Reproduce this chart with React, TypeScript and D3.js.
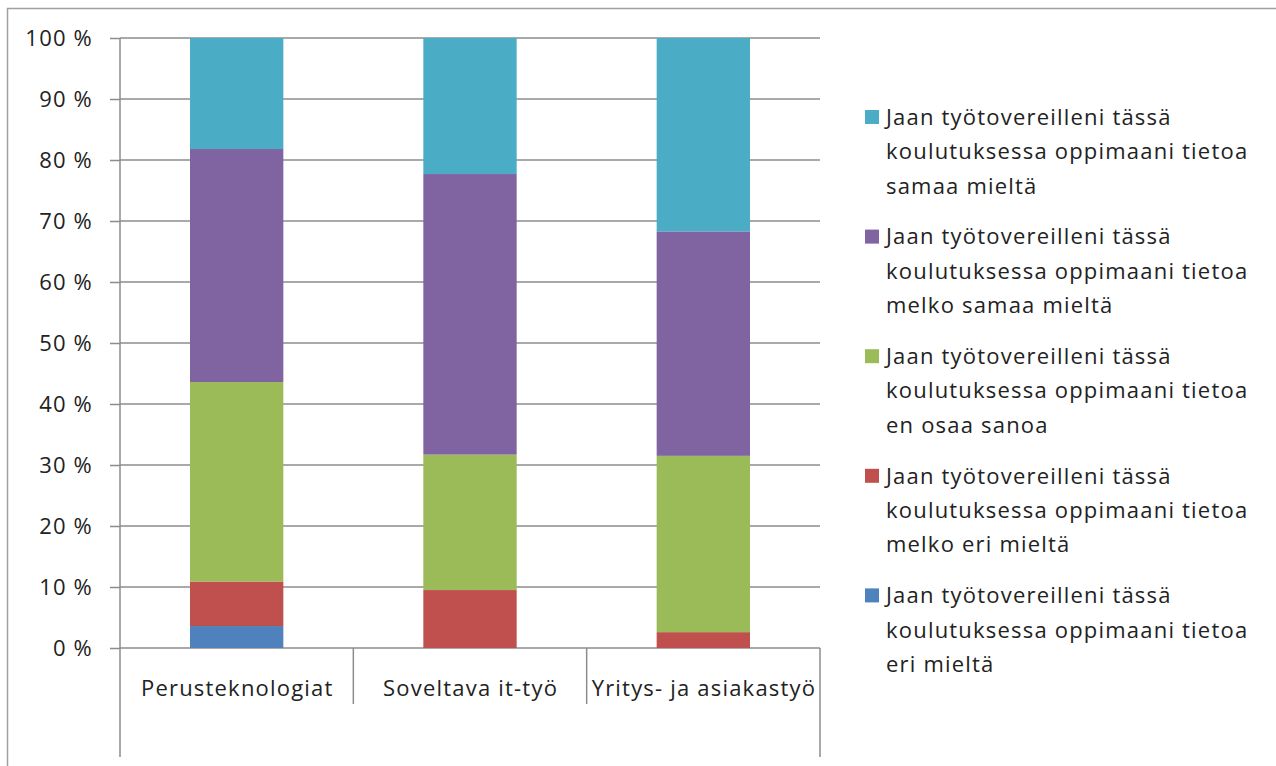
import React, { useEffect, useRef } from "react";
import * as d3 from "d3";

// categories on the x axis
const categories = ["Perusteknologiat", "Soveltava it-työ", "Yritys- ja asiakastyö"];

// series, bottom to top (percent of respondents)
const seriesKeys = ["eri", "melkoEri", "enOsaa", "melkoSamaa", "samaa"];
const eriMielta = [3.6, 0, 0];
const melkoEriMielta = [7.3, 9.5, 2.6];
const enOsaaSanoa = [32.7, 22.2, 28.9];
const melkoSamaaMielta = [38.2, 46.0, 36.8];
const samaaMielta = [18.2, 22.3, 31.7];

const seriesColors = ["#4F81BD", "#C0504D", "#9BBB59", "#8064A2", "#4BACC6"];
const seriesLabels = [
  ["Jaan työtovereilleni tässä", "koulutuksessa oppimaani tietoa", "eri mieltä"],
  ["Jaan työtovereilleni tässä", "koulutuksessa oppimaani tietoa", "melko eri mieltä"],
  ["Jaan työtovereilleni tässä", "koulutuksessa oppimaani tietoa", "en osaa sanoa"],
  ["Jaan työtovereilleni tässä", "koulutuksessa oppimaani tietoa", "melko samaa mieltä"],
  ["Jaan työtovereilleni tässä", "koulutuksessa oppimaani tietoa", "samaa mieltä"],
];

const yTicks = [0, 10, 20, 30, 40, 50, 60, 70, 80, 90, 100];

const FONT = "'Open Sans', sans-serif";
const FONT_SIZE = 22;
const SPACING = 1.2;

const App = () => {
  const ref = useRef<SVGSVGElement | null>(null);

  useEffect(() => {
    const svg = d3.select(ref.current);
    svg.selectAll("*").remove();

    const width = 1276;
    const height = 766;
    const margin = { top: 38, left: 120, right: 456, bottom: 118 };

    const rows = categories.map((c, i) => ({
      category: c,
      eri: eriMielta[i],
      melkoEri: melkoEriMielta[i],
      enOsaa: enOsaaSanoa[i],
      melkoSamaa: melkoSamaaMielta[i],
      samaa: samaaMielta[i],
    }));

    const stacked = d3.stack<any>().keys(seriesKeys)(rows);

    const x = d3
      .scaleBand()
      .domain(categories)
      .range([margin.left, width - margin.right])
      .paddingInner(0.6)
      .paddingOuter(0.3);

    const xOuter = d3
      .scaleBand()
      .domain(categories)
      .range([margin.left, width - margin.right]);

    const y = d3
      .scaleLinear()
      .domain([0, 100])
      .range([height - margin.bottom, margin.top]);

    const grey = "#8c8c8c";

    // outer chart border
    svg
      .append("rect")
      .attr("x", 7.5)
      .attr("y", 8.5)
      .attr("width", width)
      .attr("height", height)
      .attr("fill", "white")
      .attr("stroke", "#a0a0a0")
      .attr("stroke-width", 1.5);

    // y axis ticks + labels
    const yAxis = d3
      .axisLeft(y)
      .tickValues(yTicks)
      .tickSize(10)
      .tickPadding(17)
      .tickFormat((d) => `${d} %`);

    const gy = svg
      .append("g")
      .attr("transform", `translate(${margin.left},0)`)
      .call(yAxis);
    gy.select(".domain").remove();
    gy.selectAll(".tick line").attr("stroke", grey).attr("stroke-width", 1.5);
    gy.selectAll(".tick text")
      .attr("font-family", FONT)
      .attr("font-size", FONT_SIZE)
      .attr("letter-spacing", SPACING)
      .attr("fill", "#222");

    // gridlines
    svg
      .append("g")
      .selectAll("line")
      .data(yTicks)
      .join("line")
      .attr("x1", margin.left)
      .attr("x2", width - margin.right)
      .attr("y1", (d) => y(d))
      .attr("y2", (d) => y(d))
      .attr("stroke", grey)
      .attr("stroke-width", 1.5);

    // bars
    svg
      .append("g")
      .selectAll("g")
      .data(stacked)
      .join("g")
      .attr("fill", (_, i) => seriesColors[i])
      .selectAll("rect")
      .data((d) => d)
      .join("rect")
      .attr("x", (d: any) => x(d.data.category)!)
      .attr("width", x.bandwidth())
      .attr("y", (d) => y(d[1]))
      .attr("height", (d) => y(d[0]) - y(d[1]));

    // axis frame lines
    const bottom = height - margin.bottom;
    svg
      .append("line")
      .attr("x1", margin.left)
      .attr("x2", margin.left)
      .attr("y1", margin.top)
      .attr("y2", 757)
      .attr("stroke", grey)
      .attr("stroke-width", 1.5);
    svg
      .append("line")
      .attr("x1", width - margin.right)
      .attr("x2", width - margin.right)
      .attr("y1", bottom)
      .attr("y2", 757)
      .attr("stroke", grey)
      .attr("stroke-width", 1.5);
    svg
      .append("g")
      .selectAll("line")
      .data(categories.slice(1))
      .join("line")
      .attr("x1", (d) => xOuter(d)!)
      .attr("x2", (d) => xOuter(d)!)
      .attr("y1", bottom)
      .attr("y2", 704)
      .attr("stroke", grey)
      .attr("stroke-width", 1.5);

    // category labels
    svg
      .append("g")
      .selectAll("text")
      .data(categories)
      .join("text")
      .attr("x", (d) => xOuter(d)! + xOuter.bandwidth() / 2 + SPACING / 2)
      .attr("y", 688)
      .attr("dy", "0.35em")
      .attr("text-anchor", "middle")
      .attr("font-family", FONT)
      .attr("font-size", FONT_SIZE)
      .attr("letter-spacing", SPACING)
      .attr("fill", "#222")
      .text((d) => d);

    // legend (top series first)
    const legendOrder = d3.range(seriesKeys.length).reverse();
    const legend = svg
      .append("g")
      .selectAll("g")
      .data(legendOrder)
      .join("g")
      .attr("transform", (_, i) => `translate(865,${117 + i * 119.6})`);

    legend
      .append("rect")
      .attr("x", 0)
      .attr("y", -7)
      .attr("width", 14)
      .attr("height", 14)
      .attr("fill", (d) => seriesColors[d]);

    legend
      .selectAll("text")
      .data((d) => seriesLabels[d])
      .join("text")
      .attr("x", 21)
      .attr("y", (_, i) => i * 34.5)
      .attr("dy", "0.35em")
      .attr("font-family", FONT)
      .attr("font-size", FONT_SIZE)
      .attr("letter-spacing", SPACING)
      .attr("fill", "#222")
      .text((d) => d);
  }, []);

  return (
    <svg
      ref={ref}
      width={1276}
      height={766}
      style={{ position: "absolute", left: 0, top: 0, background: "white" }}
    />
  );
};

export default App;
